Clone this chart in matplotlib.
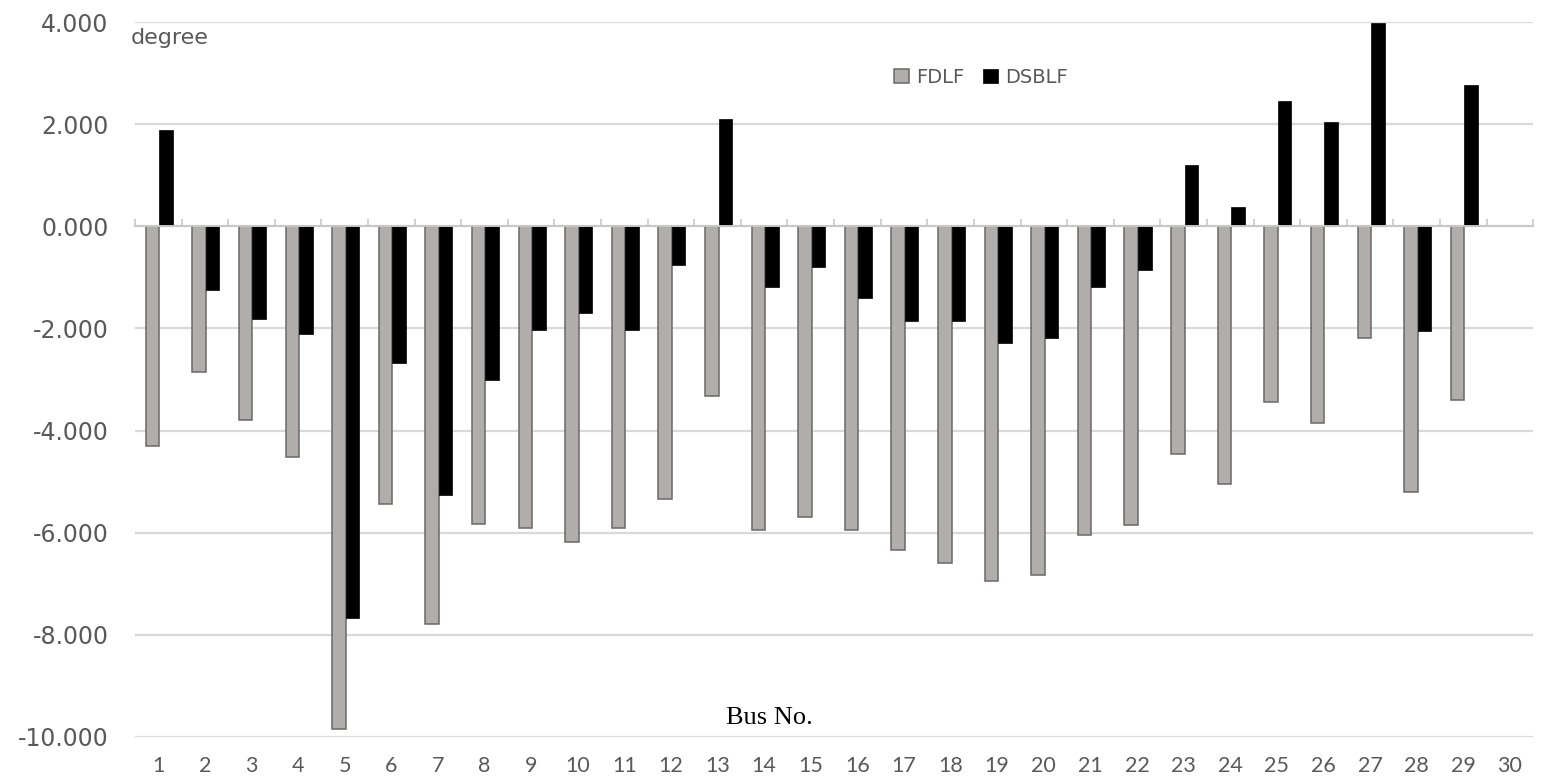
"""Bus voltage angle comparison: FDLF vs DSBLF."""

import matplotlib
matplotlib.use("Agg")
import matplotlib.pyplot as plt
import numpy as np

buses = list(range(1, 31))
# degree, bus 30 has no bars (slack/reference not plotted)
fdlf = [-4.31, -2.86, -3.80, -4.52, -9.84, -5.44, -7.79, -5.83, -5.91, -6.18,
        -5.91, -5.34, -3.33, -5.95, -5.69, -5.95, -6.34, -6.59, -6.94, -6.82,
        -6.05, -5.85, -4.46, -5.05, -3.44, -3.86, -2.19, -5.21, -3.41, np.nan]
dsblf = [1.88, -1.25, -1.82, -2.11, -7.67, -2.68, -5.26, -3.01, -2.04, -1.70,
         -2.04, -0.76, 2.11, -1.19, -0.80, -1.41, -1.86, -1.86, -2.29, -2.19,
         -1.19, -0.86, 1.21, 0.37, 2.45, 2.04, 3.99, -2.05, 2.76, np.nan]
yticks = [4, 2, 0, -2, -4, -6, -8, -10]

GREY_TXT = "#595959"

fig = plt.figure(figsize=(15.55, 7.76), dpi=100)
ax = fig.add_axes([0.0868, 0.0503, 0.8992, 0.9213])

x = np.arange(len(buses)) + 1
w = 0.29
ax.bar(x - w / 2 + 0.02, fdlf, width=w, color="#b1adad", edgecolor="#6b6767",
       linewidth=1.1, label="FDLF", zorder=3)
ax.bar(x + w / 2 + 0.02, dsblf, width=w, color="black", edgecolor="black",
       linewidth=0.5, label="DSBLF", zorder=3)

ax.set_xlim(0.5, len(buses) + 0.5)
ax.set_ylim(-10, 4)
ax.set_yticks(yticks)
ax.set_yticklabels([f"{v:.3f}" for v in yticks])
ax.yaxis.grid(True, color="#d9d9d9", lw=1.6, zorder=0)
ax.tick_params(axis="y", length=0, pad=19, labelsize=17, labelcolor=GREY_TXT)
for lab in ax.get_yticklabels():
    lab.set_family("DejaVu Sans")

# category axis line through zero with boundary ticks pointing up
for s in ("left", "right", "top"):
    ax.spines[s].set_visible(False)
ax.spines["bottom"].set_position(("data", 0))
ax.spines["bottom"].set_color("#c8c8c8")
ax.spines["bottom"].set_linewidth(1.4)
ax.spines["bottom"].set_zorder(4)
ax.set_xticks(np.arange(len(buses) + 1) + 0.5)
ax.set_xticklabels([])
ax.tick_params(axis="x", direction="in", length=5, color="#c8c8c8", width=1.2)

# bus numbers along the bottom
sec = ax.secondary_xaxis("bottom")
sec.set_xticks(x)
sec.set_xticklabels([str(b) for b in buses], family="Lato")
sec.tick_params(length=0, pad=14, labelsize=15.5, labelcolor=GREY_TXT)
sec.spines["bottom"].set_visible(False)

ax.text(-0.003, 0.977, "degree", transform=ax.transAxes, fontsize=16,
        color=GREY_TXT, ha="left", va="center", family="DejaVu Sans")
ax.text(0.454, 0.027, "Bus No.", transform=ax.transAxes, fontsize=19,
        color="black", ha="center", va="center", family="Liberation Serif")

leg = ax.legend(loc="center", bbox_to_anchor=(0.605, 0.923), ncol=2,
                frameon=False, fontsize=14, handlelength=0.75,
                handleheight=0.75, handletextpad=0.35, columnspacing=1.0)
for t in leg.get_texts():
    t.set_color(GREY_TXT)

fig.savefig("out.png", dpi=100)
